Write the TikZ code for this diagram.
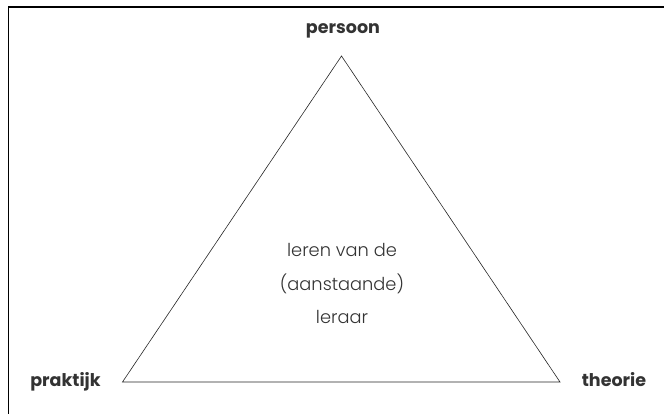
\documentclass[tikz,border=0pt]{standalone}
\usepackage{fontspec}
\setmainfont{Poppins}
\newfontfamily\lightfont{Poppins Light}
\definecolor{txt}{HTML}{333333}
\begin{document}
\begin{tikzpicture}[x=1pt,y=-1pt,
  corner/.style={font=\bfseries\fontsize{17.5}{20}\selectfont, text=txt, inner sep=0pt},
  centre/.style={font=\lightfont\fontsize{17.8}{33}\selectfont, text=txt, align=center, inner sep=0pt},
  edge/.style={draw=black!85, line width=0.6pt}]
\useasboundingbox (0,0) rectangle (664,414);
\draw[line width=1.3pt] (8.5,414) -- (8.5,7) -- (664,7);
\coordinate (P) at (341.5,56);
\coordinate (L) at (122.5,382);
\coordinate (R) at (560,382);
\draw[edge] (P) -- (L) -- (R) -- cycle;
\node[corner, anchor=base] (persoon) at (343,34) {persoon};
\node[corner, anchor=base] (praktijk) at (65.5,386.5) {praktijk};
\node[corner, anchor=base] (theorie) at (614,386.5) {theorie};
\node[centre, anchor=base] (c1) at (342,257) {leren van de};
\node[centre, anchor=base] (c2) at (342,290) {(aanstaande)};
\node[centre, anchor=base] (c3) at (342,323) {leraar};
\end{tikzpicture}
\end{document}
